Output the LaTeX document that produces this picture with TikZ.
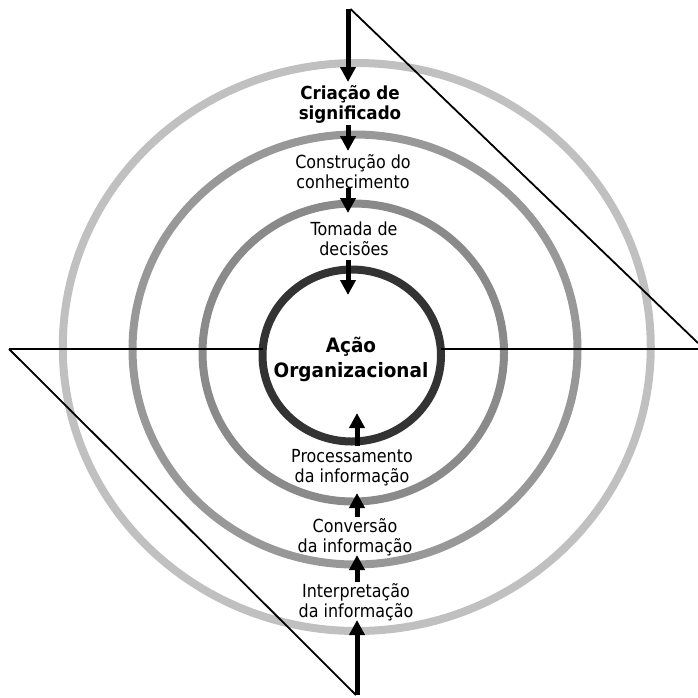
\documentclass[tikz,border=0pt]{standalone}
\usepackage{fontspec}
\setmainfont{DejaVu Sans}
\newfontfamily\regf{DejaVu Sans}[FakeStretch=0.885]
\newfontfamily\boldf{DejaVu Sans}[FakeStretch=0.93]
\usetikzlibrary{arrows.meta,shapes.geometric}
\definecolor{ringA}{HTML}{C0C0C0}
\definecolor{ringB}{HTML}{989898}
\definecolor{ringC}{HTML}{8A8A8A}
\definecolor{ringD}{HTML}{333333}
\begin{document}
\begin{tikzpicture}[x=1pt,y=-1pt,
  ring/.style={ellipse, inner sep=0pt, outer sep=0pt, line width=8pt},
  thinline/.style={line width=1.8pt, black},
  flow/.style={line width=5pt, black, -{Triangle[width=15pt,length=15pt]}},
  lbl/.style={inner sep=0pt, anchor=base, font=\regf\fontsize{18}{20}\selectfont},
  lblb/.style={inner sep=0pt, anchor=base, font=\boldf\bfseries\fontsize{18}{20}\selectfont},
  lblc/.style={inner sep=0pt, anchor=base, font=\boldf\bfseries\fontsize{19.8}{25.5}\selectfont},
]
\useasboundingbox (0,0) rectangle (698,697);
% rings
\node[ring, draw=ringA, minimum width=588pt, minimum height=568pt] (outer) at (356.75,347) {};
\node[ring, draw=ringB, minimum width=445pt, minimum height=430pt] (second) at (355,349.5) {};
\node[ring, draw=ringC, minimum width=301.5pt, minimum height=298pt] (third) at (353.25,352.5) {};
\node[ring, draw=ringD, minimum width=178.5pt, minimum height=172pt] (inner) at (351.75,355.5) {};
% labels
\node[lblb] (criacao) at (350,99) {\begin{tabular}[t]{@{}c@{}}Criação de\\significado\end{tabular}};
\node[lbl] (construcao) at (353,168) {\begin{tabular}[t]{@{}c@{}}Construção do\\conhecimento\end{tabular}};
\node[lbl] (tomada) at (354,235) {\begin{tabular}[t]{@{}c@{}}Tomada de\\decisões\end{tabular}};
\node[lblc] (acao) at (351,352) {\begin{tabular}[t]{@{}c@{}}Ação\\Organizacional\end{tabular}};
\node[lbl] (processamento) at (352,462) {\begin{tabular}[t]{@{}c@{}}Processamento\\da informação\end{tabular}};
\node[lbl] (conversao) at (355,532) {\begin{tabular}[t]{@{}c@{}}Conversão\\da informação\end{tabular}};
\node[lbl] (interpretacao) at (356,597) {\begin{tabular}[t]{@{}c@{}}Interpretação\\da informação\end{tabular}};
% arrow end points
\coordinate (a0) at (348,9);
\coordinate (a1) at (348,82);
\coordinate (b0) at (348,125);
\coordinate (b1) at (348,151);
\coordinate (c0) at (348,188);
\coordinate (c1) at (348,213);
\coordinate (d0) at (348,260);
\coordinate (d1) at (348,295);
\coordinate (e0) at (357,446);
\coordinate (e1) at (357,413);
\coordinate (f0) at (357,517);
\coordinate (f1) at (357,493);
\coordinate (g0) at (357,582);
\coordinate (g1) at (357,555);
\coordinate (h0) at (357,695);
\coordinate (h1) at (357,620);
% thin lines
\coordinate (topR) at (350.5,9);
\coordinate (rightEnd) at (698,343);
\coordinate (leftEnd) at (9,349);
\coordinate (rightH) at (698,349);
\coordinate (botL) at (356,695);
\draw[thinline] (leftEnd) -- (inner.west |- leftEnd);
\draw[thinline] (inner.east |- rightH) -- (rightH);
\draw[thinline] (topR) -- (rightEnd);
\draw[thinline] (leftEnd) -- (botL);
% arrows
\draw[flow] (a0) -- (a1);
\draw[flow] (b0) -- (b1);
\draw[flow] (c0) -- (c1);
\draw[flow] (d0) -- (d1);
\draw[flow] (e0) -- (e1);
\draw[flow] (f0) -- (f1);
\draw[flow] (g0) -- (g1);
\draw[flow] (h0) -- (h1);
\end{tikzpicture}
\end{document}
